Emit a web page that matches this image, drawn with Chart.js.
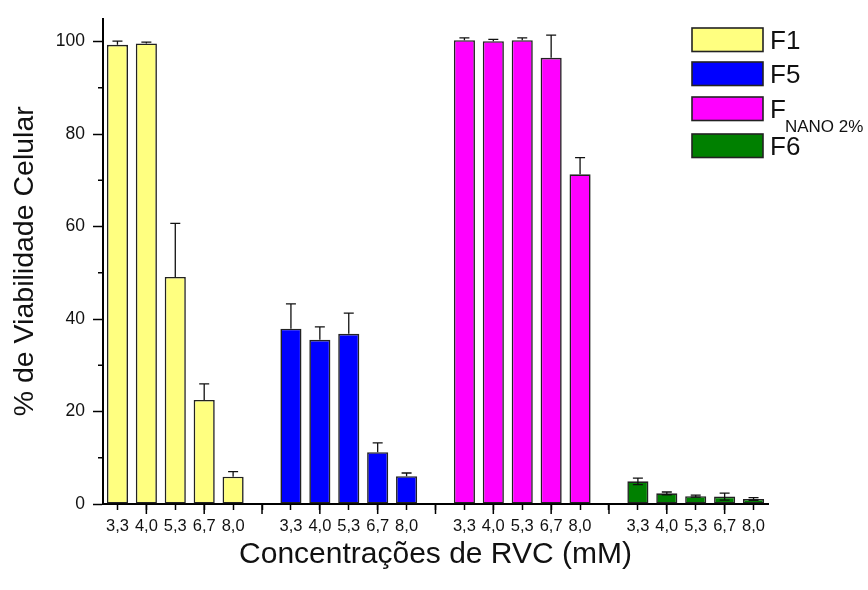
<!DOCTYPE html>
<html lang="pt">
<head>
    <meta charset="UTF-8">
    <title>Viabilidade Celular</title>
    <script src="https://cdn.jsdelivr.net/npm/chart.js"></script>
    <style>
        html, body { margin: 0; padding: 0; background: #fff; }
        #wrap { width: 868px; height: 590px; }
    </style>
</head>
<body>
    <div id="wrap"><canvas id="viabChart" width="868" height="590"></canvas></div>

    <script>
        // concentrations (mM), repeated per formulation
        const concLabels = ['3,3', '4,0', '5,3', '6,7', '8,0'];
        const seriesNames = ['F1', 'F5', 'F_NANO 2%', 'F6'];

        const f1Values = [99.3, 99.6, 49.1, 22.5, 5.9];
        const f1Errors = [0.8, 0.3, 11.6, 3.5, 1.1];
        const f5Values = [37.9, 35.5, 36.8, 11.2, 6.0];
        const f5Errors = [5.4, 2.8, 4.5, 2.0, 0.7];
        const nanoValues = [100.3, 100.1, 100.3, 96.5, 71.3];
        const nanoErrors = [0.5, 0.4, 0.5, 4.9, 3.6];
        const f6Values = [4.9, 2.3, 1.7, 1.6, 1.1];
        const f6Errors = [0.7, 0.3, 0.2, 0.75, 0.3];

        const yTicks = [0, 20, 40, 60, 80, 100];
        const yMinorTicks = [10, 30, 50, 70, 90];

        const colors = ['#ffff80', '#0000ff', '#ff00ff', '#008000'];
        const FONT = '"Liberation Sans", Arial, sans-serif';

        // 4 groups of 5 with a blank slot between groups
        const groups = [f1Values, f5Values, nanoValues, f6Values];
        const groupErrors = [f1Errors, f5Errors, nanoErrors, f6Errors];
        const labels = [];
        groups.forEach((g, gi) => {
            labels.push(...concLabels);
            if (gi < groups.length - 1) labels.push('');
        });
        const slot = concLabels.length + 1;

        const datasets = groups.map((vals, gi) => {
            const data = labels.map(() => null);
            const errs = labels.map(() => null);
            vals.forEach((v, i) => {
                data[gi * slot + i] = v;
                errs[gi * slot + i] = groupErrors[gi][i];
            });
            return {
                label: seriesNames[gi],
                data: data,
                errors: errs,
                twoSided: gi === 3,
                backgroundColor: colors[gi],
                borderColor: '#222',
                borderWidth: 1.6,
                borderSkipped: false,
                grouped: false,
                categoryPercentage: 1.0,
                barPercentage: 0.73
            };
        });

        // error bars
        const errorBars = {
            id: 'errorBars',
            afterDatasetsDraw(chart) {
                const ctx = chart.ctx;
                const y = chart.scales.y;
                ctx.save();
                ctx.strokeStyle = '#111';
                ctx.lineWidth = 1.3;
                chart.data.datasets.forEach((ds, di) => {
                    const meta = chart.getDatasetMeta(di);
                    meta.data.forEach((bar, i) => {
                        const v = ds.data[i];
                        const e = ds.errors[i];
                        if (v === null || e === null) return;
                        const top = y.getPixelForValue(v + e);
                        const bot = ds.twoSided ? y.getPixelForValue(v - e) : y.getPixelForValue(v);
                        const cap = 5;
                        ctx.beginPath();
                        ctx.moveTo(bar.x, bot);
                        ctx.lineTo(bar.x, top);
                        ctx.moveTo(bar.x - cap, top);
                        ctx.lineTo(bar.x + cap, top);
                        if (ds.twoSided) {
                            ctx.moveTo(bar.x - cap, bot);
                            ctx.lineTo(bar.x + cap, bot);
                        }
                        ctx.stroke();
                    });
                });
                ctx.restore();
            }
        };

        // short minor ticks on y, longer alternate ticks on x
        const extraTicks = {
            id: 'extraTicks',
            afterDraw(chart) {
                const ctx = chart.ctx;
                const y = chart.scales.y;
                const x = chart.scales.x;
                ctx.save();
                ctx.strokeStyle = '#000';
                ctx.lineWidth = 1.5;
                ctx.beginPath();
                yMinorTicks.forEach(v => {
                    const py = y.getPixelForValue(v);
                    ctx.moveTo(y.right - 5, py);
                    ctx.lineTo(y.right, py);
                });
                labels.forEach((l, i) => {
                    if (i % 2 === 1) {
                        const px = x.getPixelForTick(i);
                        ctx.moveTo(px, x.top);
                        ctx.lineTo(px, x.top + 10);
                    }
                });
                ctx.stroke();
                ctx.restore();
            }
        };

        // legend with subscript
        const legendRows = [28, 62, 97, 134];
        const subLegend = {
            id: 'subLegend',
            afterDraw(chart) {
                const ctx = chart.ctx;
                const x0 = 692, w = 71, h = 23.5;
                ctx.save();
                chart.data.datasets.forEach((ds, i) => {
                    const yy = legendRows[i];
                    ctx.fillStyle = ds.backgroundColor;
                    ctx.fillRect(x0, yy, w, h);
                    ctx.strokeStyle = '#222';
                    ctx.lineWidth = 1.6;
                    ctx.strokeRect(x0, yy, w, h);
                    ctx.fillStyle = '#111';
                    ctx.textBaseline = 'alphabetic';
                    ctx.textAlign = 'left';
                    ctx.font = '26px ' + FONT;
                    const parts = ds.label.split('_');
                    const base = yy + h / 2 + 9.5;
                    ctx.fillText(parts[0], 770, base);
                    if (parts[1]) {
                        const fw = ctx.measureText(parts[0]).width;
                        ctx.font = '17px ' + FONT;
                        ctx.fillText(parts[1], 770 + fw - 1, base + 14);
                    }
                });
                ctx.restore();
            }
        };

        new Chart(document.getElementById('viabChart'), {
            type: 'bar',
            data: { labels: labels, datasets: datasets },
            options: {
                responsive: false,
                animation: false,
                layout: { padding: { top: 15, right: 100, left: 0, bottom: 0 } },
                plugins: {
                    legend: { display: false },
                    tooltip: { enabled: false }
                },
                scales: {
                    x: {
                        offset: true,
                        grid: {
                            display: true,
                            drawOnChartArea: false,
                            offset: false,
                            tickLength: 6,
                            tickWidth: 1.5,
                            tickColor: '#000'
                        },
                        border: { display: true, color: '#000', width: 2 },
                        ticks: {
                            autoSkip: false,
                            maxRotation: 0,
                            padding: 7,
                            color: '#111',
                            font: { family: FONT, size: 16.5 }
                        },
                        title: {
                            display: true,
                            text: 'Concentrações de RVC (mM)',
                            color: '#111',
                            font: { family: FONT, size: 30 },
                            padding: { top: 0, bottom: 17 }
                        },
                        afterFit(scale) { scale.height = 86; }
                    },
                    y: {
                        min: 0,
                        max: 105,
                        afterBuildTicks(scale) {
                            scale.ticks = yTicks.map(v => ({ value: v }));
                        },
                        grid: {
                            display: true,
                            drawOnChartArea: false,
                            tickLength: 10,
                            tickWidth: 1.5,
                            tickColor: '#000'
                        },
                        border: { display: true, color: '#000', width: 2 },
                        ticks: {
                            padding: 8,
                            color: '#111',
                            font: { family: FONT, size: 17.5 }
                        },
                        title: {
                            display: true,
                            text: '% de Viabilidade Celular',
                            color: '#111',
                            font: { family: FONT, size: 28.5 },
                            padding: { top: 8, bottom: 0 }
                        },
                        afterFit(scale) { scale.width = 103; }
                    }
                }
            },
            plugins: [errorBars, extraTicks, subLegend]
        });
    </script>
</body>
</html>
